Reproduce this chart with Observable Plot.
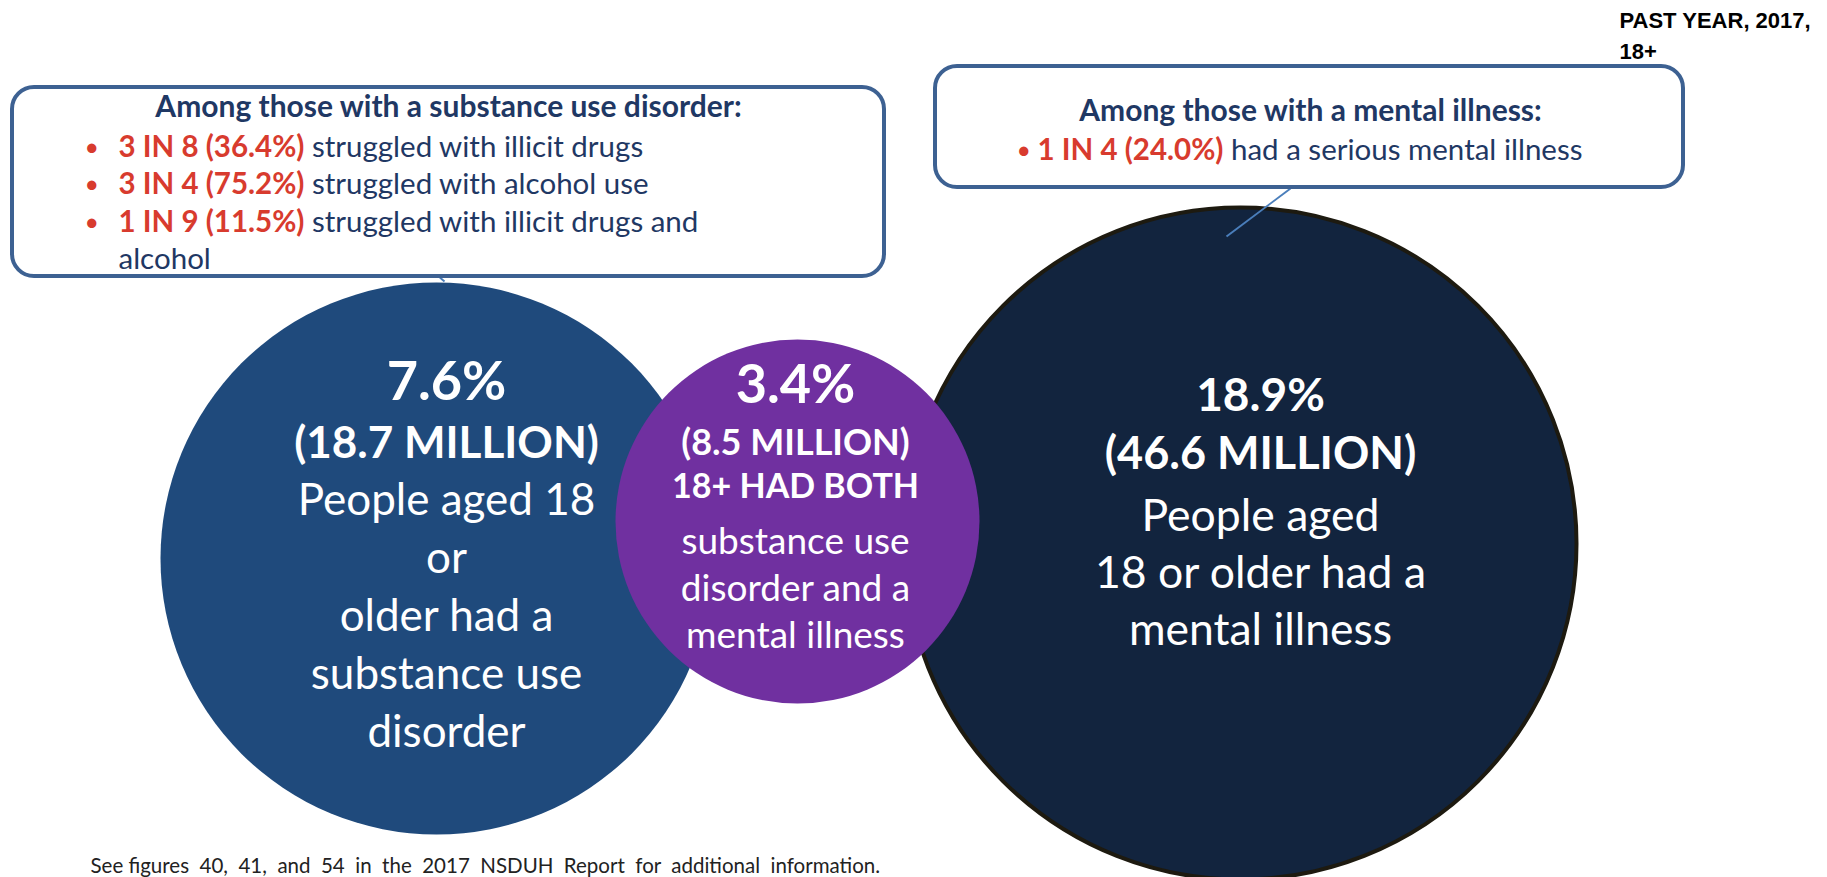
<!DOCTYPE html>
<html><head><meta charset="utf-8">
<script src="https://cdn.jsdelivr.net/npm/d3@7"></script>
<script src="https://cdn.jsdelivr.net/npm/@observablehq/plot@0.6"></script>
<style>
html,body{margin:0;padding:0;background:#fff;}
#chart svg{display:block}
</style></head>
<body><div id="chart"></div>
<script>
// ---------- data ----------
const groups = ["Substance use disorder", "Both", "Mental illness"];
const percents = [7.6, 3.4, 18.9];
const millions = [18.7, 8.5, 46.6];
const groupText = [
  "People aged 18\nor\nolder had a\nsubstance use\ndisorder",
  "substance use\ndisorder and a\nmental illness",
  "People aged\n18 or older had a\nmental illness"
];
const bothLabel = "18+ HAD BOTH";
const sudTitle = "Among those with a substance use disorder:";
const sudRatios = ["3 IN 8", "3 IN 4", "1 IN 9"];
const sudPercents = [36.4, 75.2, 11.5];
const sudLabels = ["struggled with illicit drugs", "struggled with alcohol use", "struggled with illicit drugs and"];
const sudWrap = "alcohol";
const miTitle = "Among those with a mental illness:";
const miRatios = ["1 IN 4"];
const miPercents = [24.0];
const miLabels = ["had a serious mental illness"];
const periodNote = "PAST YEAR, 2017,\n18+";
const footnote = "See figures  40,  41,  and  54  in  the  2017  NSDUH  Report  for  additional  information.";

// ---------- layout (page pixels, passed through x/y scales) ----------
const W = 1827, H = 877;
const FONT = "Lato, 'Open Sans', sans-serif";
const NAVY = "#1f3864", RED = "#d83b2e", BOXSTROKE = "#3d6192", LINK = "#4a7ebb";
const circleLayout = [
  {cx: 436, cy: 558, r: 276, fill: "#1f4a7c", stroke: "none"},
  {cx: 797, cy: 521, r: 182, fill: "#7030a0", stroke: "none"},
  {cx: 1240, cy: 543, r: 336, fill: "#12243e", stroke: "#1d1a10"}
];
const textLayout = [
  {x: 446, pctY: 382, pctSize: 54, milY: 443, milSize: 44, descY: 612, descSize: 44, descLH: 58},
  {x: 795, pctY: 385, pctSize: 54, milY: 443, milSize: 36, descY: 585, descSize: 37, descLH: 47},
  {x: 1260, pctY: 396, pctSize: 46, milY: 454, milSize: 45, descY: 569, descSize: 44.5, descLH: 57}
];
const sudBox = {x1: 12, x2: 884, y1: 87, y2: 276};
const miBox = {x1: 935, x2: 1683, y1: 66, y2: 187};
const sudLayout = {titleX: 448, titleY: 107, bulletX: 84, textX: 118, ys: [147, 184, 222], wrapY: 259};
const miLayout = {titleX: 1310, titleY: 111, bulletX: 1016, textX: 1037, ys: [150]};
const links = [
  {x1: 436, y1: 274, x2: 444, y2: 281},
  {x1: 1290, y1: 188, x2: 1226, y2: 236}
];
const TITLE_SIZE = 30, BODY_SIZE = 29.5;

// ---------- helpers ----------
const ctx = document.createElement("canvas").getContext("2d");
function measure(s, size, weight) {
  ctx.font = `${weight} ${size}px Lato`;
  return ctx.measureText(s).width;
}
const T = (rows, o) => Plot.text(rows, {x: "x", y: "y", text: "text", fontFamily: FONT, ...o});

const circles = groups.map((g, i) => ({group: g, value: percents[i], ...circleLayout[i]}));
const drawOrder = [0, 2, 1];
const circleMarks = drawOrder.map(i => Plot.dot([circles[i]], {
  x: "cx", y: "cy", r: circles[i].r, fill: circles[i].fill,
  stroke: circles[i].stroke, strokeWidth: 4
}));

const circleTextMarks = [];
groups.forEach((g, i) => {
  const L = textLayout[i];
  circleTextMarks.push(T([{x: L.x, y: L.pctY, text: `${percents[i].toFixed(1)}%`}],
    {fill: "white", fontWeight: "bold", fontSize: L.pctSize}));
  circleTextMarks.push(T([{x: L.x, y: L.milY, text: `(${millions[i].toFixed(1)} MILLION)`}],
    {fill: "white", fontWeight: "bold", fontSize: L.milSize}));
  circleTextMarks.push(T([{x: L.x, y: L.descY, text: groupText[i]}],
    {fill: "white", fontSize: L.descSize, lineHeight: L.descLH / L.descSize}));
});
circleTextMarks.push(T([{x: textLayout[1].x, y: 487, text: bothLabel}],
  {fill: "white", fontWeight: "bold", fontSize: 34}));

function bulletMarks(ratios, pcts, labels, lay) {
  const red = ratios.map((r, i) => ({x: lay.textX, y: lay.ys[i], text: `${r} (${pcts[i].toFixed(1)}%)`}));
  const rest = labels.map((l, i) => ({
    x: lay.textX + measure(red[i].text, BODY_SIZE, "bold") + measure(" ", BODY_SIZE, "normal"),
    y: lay.ys[i], text: l
  }));
  const dots = ratios.map((r, i) => ({x: lay.bulletX, y: lay.ys[i], text: "•"}));
  return [
    T(dots, {fill: RED, fontSize: BODY_SIZE * 0.85, textAnchor: "start"}),
    T(red, {fill: RED, fontWeight: "bold", fontSize: BODY_SIZE, textAnchor: "start"}),
    T(rest, {fill: NAVY, fontSize: BODY_SIZE, textAnchor: "start"})
  ];
}

const chart = Plot.plot({
  width: W, height: H, margin: 0,
  x: {domain: [0, W], range: [0, W], axis: null},
  y: {domain: [0, H], range: [0, H], axis: null},
  style: {background: "#fff"},
  marks: [
    ...circleMarks,
    Plot.link(links, {x1: "x1", y1: "y1", x2: "x2", y2: "y2", stroke: LINK, strokeWidth: 2}),
    Plot.rect([sudBox, miBox], {x1: "x1", x2: "x2", y1: "y1", y2: "y2", rx: 22, fill: "white", stroke: BOXSTROKE, strokeWidth: 4}),
    T([{x: sudLayout.titleX, y: sudLayout.titleY, text: sudTitle}], {fill: NAVY, fontWeight: "bold", fontSize: TITLE_SIZE}),
    ...bulletMarks(sudRatios, sudPercents, sudLabels, sudLayout),
    T([{x: sudLayout.textX, y: sudLayout.wrapY, text: sudWrap}], {fill: NAVY, fontSize: BODY_SIZE, textAnchor: "start"}),
    T([{x: miLayout.titleX, y: miLayout.titleY, text: miTitle}], {fill: NAVY, fontWeight: "bold", fontSize: TITLE_SIZE}),
    ...bulletMarks(miRatios, miPercents, miLabels, miLayout),
    ...circleTextMarks,
    T([{x: 1619, y: 33, text: periodNote}], {fill: "black", fontFamily: "'Liberation Sans', Arial, sans-serif", fontWeight: "bold", fontSize: 22, textAnchor: "start", lineAnchor: "middle", lineHeight: 31 / 22}),
    T([{x: 90, y: 866, text: footnote}], {fill: "#222", fontSize: 20.5, textAnchor: "start"})
  ]
});
document.getElementById("chart").append(chart);
</script>
</body></html>
